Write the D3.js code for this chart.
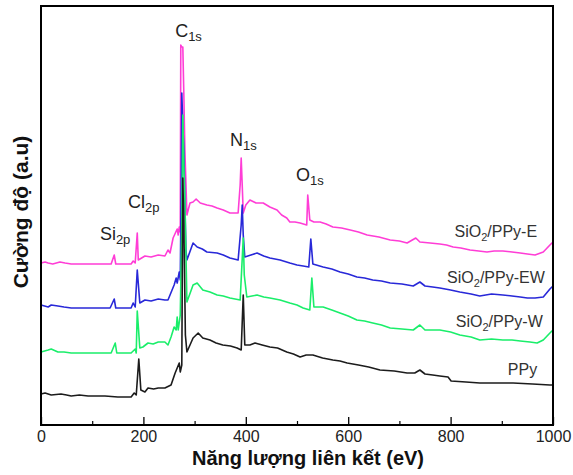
<!DOCTYPE html>
<html>
<head>
<meta charset="utf-8">
<script src="https://cdn.jsdelivr.net/npm/d3@7"></script>
<style>
  body { margin: 0; background: #fff; }
  text { font-family: Arial, "Liberation Sans", sans-serif; }
</style>
</head>
<body>
<div id="chart"></div>
<script>
//Binding energy (eV) and intensity (a.u.)
var ppy = [[0,31],[8,32],[20,30],[39,31],[50,30],[59,29],[75,30],[92,29],[110,29],[125,29],[150,28],[176,28],[182,32],[186,30],[191,66],[195,35],[203,33],[209,37],[220,36],[229,37],[242,37],[254,40],[262,52],[266,57],[270,62],[272,53],[275,60],[276,150],[277,247],[279,200],[282,90],[285,73],[291,80],[297,87],[307,92],[316,87],[330,85],[342,82],[355,80],[370,79],[383,77],[391,75],[395,130],[398,80],[408,80],[418,82],[432,80],[447,78],[462,77],[480,73],[493,71],[506,68],[518,70],[531,70],[550,67],[570,65],[584,64],[598,62],[620,60],[640,58],[662,55],[690,54],[715,52],[730,52],[740,55],[750,51],[765,50],[779,49],[795,48],[801,44],[830,43],[857,42],[890,42],[922,42],[960,41],[994,40],[1000,40]];
var sioW = [[0,73],[14,75],[20,76],[33,73],[45,73],[59,72],[75,72],[92,72],[110,72],[125,72],[137,72],[145,82],[148,72],[160,72],[176,72],[184,76],[186,72],[188,114],[193,77],[199,78],[209,82],[219,81],[229,83],[242,83],[248,80],[254,88],[260,98],[264,95],[266,108],[268,95],[272,110],[275,200],[277,310],[279,260],[281,225],[285,123],[297,140],[305,142],[316,135],[330,133],[344,130],[356,129],[369,127],[389,125],[395,187],[397,150],[402,128],[412,129],[422,130],[435,128],[447,127],[467,125],[486,122],[500,120],[512,117],[525,115],[529,147],[533,118],[551,118],[568,115],[584,112],[600,109],[617,105],[632,104],[648,102],[665,100],[682,97],[705,96],[727,95],[740,100],[750,95],[765,95],[779,95],[800,93],[818,90],[840,88],[857,85],[880,86],[902,85],[920,85],[936,84],[955,83],[969,82],[981,85],[994,92],[1000,95]];
var sioEW = [[0,120],[14,118],[20,120],[33,119],[45,118],[59,117],[75,117],[92,117],[110,117],[135,117],[143,126],[146,117],[160,117],[176,117],[180,122],[184,118],[188,155],[193,122],[203,125],[215,124],[229,126],[242,125],[248,125],[256,135],[260,140],[264,147],[266,142],[270,153],[272,145],[274,250],[275,332],[277,300],[279,275],[283,175],[285,165],[297,182],[305,178],[315,176],[324,173],[344,172],[356,170],[369,167],[385,165],[391,200],[393,220],[395,190],[398,168],[410,170],[422,172],[435,169],[447,167],[467,165],[486,162],[500,160],[512,159],[523,158],[527,186],[531,161],[551,158],[568,156],[584,153],[600,151],[617,148],[632,147],[648,145],[665,144],[682,142],[705,141],[727,139],[740,143],[750,139],[765,138],[779,137],[800,135],[818,133],[840,131],[857,129],[880,131],[902,130],[920,129],[936,128],[950,127],[965,127],[981,128],[994,136],[1000,139]];
var sioE = [[0,162],[8,163],[14,162],[23,161],[37,163],[47,162],[59,161],[75,161],[92,161],[110,161],[125,161],[137,161],[143,170],[146,161],[160,161],[176,161],[180,164],[184,162],[188,192],[190,165],[203,169],[215,168],[229,170],[242,169],[248,175],[252,172],[258,187],[266,196],[268,190],[270,198],[272,193],[273,380],[275,378],[277,378],[279,330],[281,275],[285,210],[291,222],[297,223],[303,226],[311,222],[324,220],[334,219],[344,217],[356,215],[369,212],[385,212],[389,240],[391,267],[393,240],[395,212],[400,220],[408,225],[420,222],[434,222],[447,218],[461,215],[470,210],[480,207],[486,203],[496,203],[506,202],[519,200],[521,230],[525,205],[533,203],[545,203],[557,201],[570,198],[587,197],[604,195],[620,193],[637,190],[660,188],[682,185],[700,184],[715,182],[732,187],[740,183],[760,182],[779,181],[792,180],[805,178],[820,177],[838,175],[855,174],[871,173],[885,174],[902,174],[920,173],[936,172],[950,171],[965,170],[981,173],[994,180],[1000,183]];

var seriesNames = ["SiO2/PPy-E", "SiO2/PPy-EW", "SiO2/PPy-W", "PPy"];
var seriesColors = ["#ff3dd6", "#2828d8", "#1aee6a", "#1c1c1c"];
var seriesData = [sioE, sioEW, sioW, ppy];
//where each series label ends (eV) and its baseline (a.u.)
var seriesLabelPos = [[969,188],[984,142],[980,98],[969,50]];

//Peak annotations: main text, subscript, left edge (eV), baseline (a.u.)
var peakNames = ["C", "N", "O", "Cl", "Si"];
var peakSubs = ["1s", "1s", "1s", "2p", "2p"];
var peakPos = [[262,388],[369,279],[498,244],[170,217],[115,185]];

var majorTicks = [0, 200, 400, 600, 800, 1000];
var minorTicks = [100, 300, 500, 700, 900];

//Sets up the svg with the same size as the window
var width = 573, height = 475;
var svg = d3.select("#chart").append("svg").attr("width", width).attr("height", height);

var x = d3.scaleLinear().domain([0, 1000]).range([41, 553]);
var y = d3.scaleLinear().domain([0, 419]).range([425, 6]);

var line = d3.line()
    .x(function(d) { return x(d[0]); })
    .y(function(d) { return y(d[1]); });

//Draws the spectra, pink first so black ends up on top
svg.selectAll("path.spec")
    .data(seriesData)
    .enter()
    .append("path")
    .attr("class", "spec")
    .attr("d", line)
    .attr("fill", "none")
    .attr("stroke", function(d, i) { return seriesColors[i]; })
    .attr("stroke-width", 1.6)
    .attr("stroke-linejoin", "round");

//Frame round the plot
svg.append("rect")
    .attr("x", x(0)).attr("y", y(419))
    .attr("width", x(1000) - x(0)).attr("height", y(0) - y(419))
    .attr("fill", "none").attr("stroke", "#000").attr("stroke-width", 2);

//Bottom axis with inward ticks
var xAxis = svg.append("g")
    .attr("transform", "translate(0," + y(0) + ")")
    .call(d3.axisBottom(x).tickValues(majorTicks).tickFormat(d3.format("d"))
      .tickSizeInner(-8).tickSizeOuter(0).tickPadding(6));
xAxis.select(".domain").remove();
xAxis.selectAll("line").attr("stroke", "#000").attr("stroke-width", 1.3);
xAxis.selectAll("text").attr("font-size", 16).attr("fill", "#222")
    .style("font-family", "Arial, 'Liberation Sans', sans-serif");

var xMinor = svg.append("g")
    .attr("transform", "translate(0," + y(0) + ")")
    .call(d3.axisBottom(x).tickValues(minorTicks).tickSizeInner(-4).tickSizeOuter(0).tickFormat(""));
xMinor.select(".domain").remove();
xMinor.selectAll("line").attr("stroke", "#000").attr("stroke-width", 1.2);

//Axis titles
svg.append("text")
    .attr("x", (x(0) + x(1000)) / 2 + 11)
    .attr("y", 465)
    .attr("text-anchor", "middle")
    .attr("font-size", 20)
    .attr("font-weight", "bold")
    .attr("fill", "#111")
    .text("Năng lượng liên kết (eV)");

svg.append("text")
    .attr("transform", "translate(28,212) rotate(-90)")
    .attr("text-anchor", "middle")
    .attr("font-size", 21)
    .attr("font-weight", "bold")
    .attr("fill", "#111")
    .text("Cường độ (a.u)");

//Peak labels with subscripts
var peaks = svg.selectAll("text.peak")
    .data(peakNames)
    .enter()
    .append("text")
    .attr("class", "peak")
    .attr("x", function(d, i) { return x(peakPos[i][0]); })
    .attr("y", function(d, i) { return y(peakPos[i][1]); })
    .attr("font-size", 18)
    .attr("fill", "#222");
peaks.append("tspan").text(function(d) { return d; });
peaks.append("tspan")
    .attr("dy", 4)
    .attr("font-size", 13)
    .text(function(d, i) { return peakSubs[i]; });

//Series labels at the right end
var labels = svg.selectAll("text.series")
    .data(seriesNames)
    .enter()
    .append("text")
    .attr("class", "series")
    .attr("x", function(d, i) { return x(seriesLabelPos[i][0]); })
    .attr("y", function(d, i) { return y(seriesLabelPos[i][1]); })
    .attr("text-anchor", "end")
    .attr("font-size", 16)
    .attr("fill", "#333");
labels.each(function(d) {
  var t = d3.select(this);
  var parts = d.split("2");
  if (parts.length > 1) {
    t.append("tspan").text(parts[0]);
    t.append("tspan").attr("dy", 4).attr("font-size", 11).text("2");
    t.append("tspan").attr("dy", -4).text(parts[1]);
  } else {
    t.text(d);
  }
});
</script>
</body>
</html>
